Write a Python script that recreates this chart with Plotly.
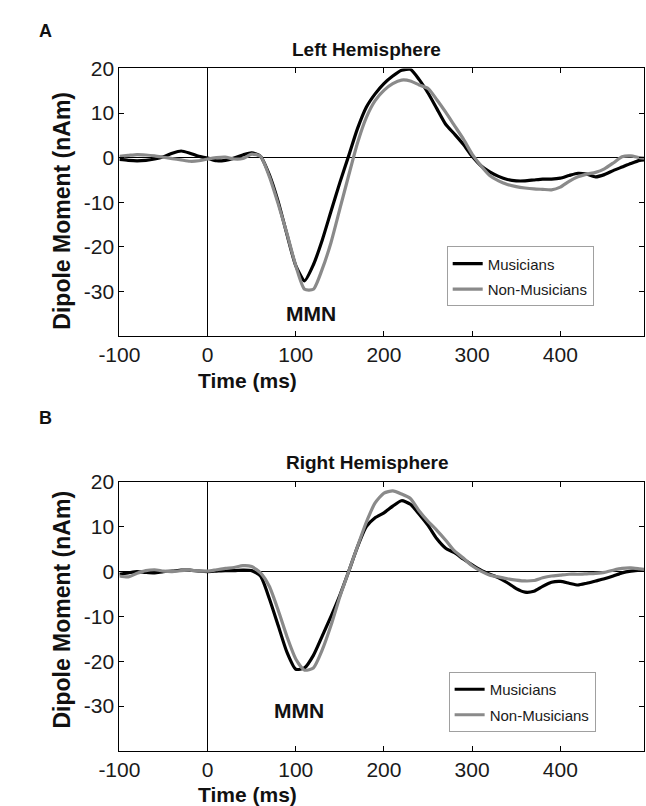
import plotly.graph_objects as go

# ---------------- data ----------------
time_ms = [-100, -90, -80, -70, -60, -50, -40, -30, -20, -10,
           0, 10, 20, 30, 40, 50, 60, 70, 80, 90,
           100, 110, 120, 130, 140, 150, 160, 170, 180, 190,
           200, 210, 220, 230, 240, 250, 260, 270, 280, 290,
           300, 310, 320, 330, 340, 350, 360, 370, 380, 390,
           400, 410, 420, 430, 440, 450, 460, 470, 480, 490, 495]

left_musicians = [-0.4, -0.6, -0.7, -0.6, -0.3, 0.2, 1.0, 1.5, 1.0, 0.3,
                  -0.1, -0.7, -0.6, -0.1, 0.6, 1.1, 0.3, -3.8, -9.8, -17.2,
                  -24.2, -27.6, -24.0, -18.5, -12.0, -5.6, 0.4, 6.5, 11.3, 14.3,
                  16.6, 18.3, 19.6, 19.8, 17.5, 14.5, 11.0, 7.5, 5.3, 3.0,
                  0.3, -1.8, -3.2, -4.2, -4.9, -5.2, -5.2, -5.0, -4.8, -4.8,
                  -4.6, -4.0, -3.5, -3.7, -4.3, -3.8, -2.9, -2.1, -1.3, -0.6, -0.5]

left_nonmusicians = [0.3, 0.5, 0.7, 0.6, 0.4, 0.1, -0.2, -0.5, -0.8, -0.7,
                     -0.3, 0.0, 0.1, -0.3, -0.2, 0.8, 0.3, -4.2, -10.3, -17.0,
                     -24.2, -29.5, -29.5, -25.0, -19.0, -11.5, -4.0, 3.3, 9.0, 12.8,
                     15.1, 16.6, 17.4, 17.2, 16.3, 15.5, 13.0, 10.2, 7.2, 4.2,
                     0.8, -1.8, -4.0, -5.2, -6.0, -6.5, -6.8, -7.0, -7.1, -7.2,
                     -6.6, -5.3, -4.3, -3.7, -3.3, -2.5, -1.2, 0.2, 0.4, 0.0, -0.1]

right_musicians = [-0.6, -0.3, 0.0, -0.2, -0.3, 0.0, 0.1, 0.3, 0.3, 0.1,
                   0.0, 0.1, 0.2, 0.2, 0.3, 0.2, -1.0, -6.0, -12.0, -18.0,
                   -21.8, -21.5, -18.7, -14.4, -10.0, -5.3, 0.0, 5.5, 10.0, 12.0,
                   13.1, 14.6, 15.8, 15.0, 12.8, 10.3, 7.3, 5.2, 4.2, 2.8,
                   1.5, 0.3, -0.6, -1.4, -2.5, -3.8, -4.6, -4.4, -3.3, -2.4,
                   -2.2, -2.6, -3.0, -2.6, -2.1, -1.6, -1.0, -0.3, 0.1, 0.3, 0.4]

right_nonmusicians = [-1.0, -1.2, -0.4, 0.2, 0.4, 0.1, 0.0, 0.2, 0.3, 0.1,
                      0.1, 0.4, 0.7, 0.9, 1.3, 1.1, -0.3, -3.3, -8.6, -14.5,
                      -19.5, -22.0, -21.5, -17.5, -12.0, -5.6, 0.0, 5.6, 11.0, 15.3,
                      17.5, 18.0, 17.3, 16.3, 13.5, 11.2, 9.2, 7.0, 4.6, 3.0,
                      1.3, 0.1, -0.8, -1.2, -1.6, -1.9, -2.1, -2.0, -1.4, -1.0,
                      -0.8, -0.6, -0.6, -0.5, -0.4, -0.2, 0.3, 0.7, 0.8, 0.6, 0.5]

x_tick_vals = [-100, 0, 100, 200, 300, 400]
x_tick_text = ["-100", "0", "100", "200", "300", "400"]
y_tick_vals = [-30, -20, -10, 0, 10, 20]
y_tick_text = ["-30", "-20", "-10", "0", "10", "20"]
series_names = ["Musicians", "Non-Musicians"]
panel_titles = ["Left Hemisphere", "Right Hemisphere"]
panel_letters = ["A", "B"]
mmn_positions = [(117, -34.9), (104, -31.0)]  # (time, nAm) of the "MMN" label

# ---------------- style ----------------
W, H = 646, 806
FONT = "Arial, Liberation Sans, Helvetica, sans-serif"
BLACK = "#000000"
GRAY = "#8a8a8a"
TXT = "#111111"


def px(x):
    return x / W


def py(y):
    return 1 - y / H


fig = go.Figure()

panels = [
    dict(m=left_musicians, n=left_nonmusicians, legend="legend", xa="x", ya="y"),
    dict(m=right_musicians, n=right_nonmusicians, legend="legend2", xa="x2", ya="y2"),
]

for k, p in enumerate(panels):
    fig.add_trace(go.Scatter(x=time_ms, y=p["m"], mode="lines", name=series_names[0],
                             line=dict(color=BLACK, width=3.2, shape="spline", smoothing=0.6),
                             xaxis=p["xa"], yaxis=p["ya"], legend=p["legend"],
                             legendgroup="m%d" % k))
    fig.add_trace(go.Scatter(x=time_ms, y=p["n"], mode="lines", name=series_names[1],
                             line=dict(color=GRAY, width=3.2, shape="spline", smoothing=0.6),
                             xaxis=p["xa"], yaxis=p["ya"], legend=p["legend"],
                             legendgroup="n%d" % k))

axis_common = dict(showline=True, mirror="ticks", linecolor=BLACK, linewidth=1,
                   ticks="inside", ticklen=5, tickcolor=BLACK, tickwidth=1,
                   showgrid=False, zeroline=True, zerolinecolor=BLACK, zerolinewidth=1,
                   tickfont=dict(family=FONT, size=21, color="#1a1a1a"))
xaxis_common = dict(range=[-100, 495], tickvals=x_tick_vals, ticktext=x_tick_text, **axis_common)
yaxis_common = dict(range=[-40, 20], tickvals=y_tick_vals, ticktext=y_tick_text, **axis_common)

xdom = [px(101.7), px(644)]
legend_common = dict(xanchor="left", yanchor="top", bgcolor="white",
                     bordercolor="#a0a0a0", borderwidth=1, tracegroupgap=3,
                     font=dict(family=FONT, size=15, color="#1a1a1a"))
layout = dict(
    width=W, height=H, margin=dict(l=0, r=0, t=0, b=0),
    paper_bgcolor="white", plot_bgcolor="white", showlegend=True,
    xaxis=dict(domain=xdom, anchor="y", **xaxis_common),
    yaxis=dict(domain=[py(329), py(57.3)], anchor="x", **yaxis_common),
    xaxis2=dict(domain=xdom, anchor="y2", **xaxis_common),
    yaxis2=dict(domain=[py(750), py(477)], anchor="x2", **yaxis_common),
    legend=dict(x=px(440), y=py(238), **legend_common),
    legend2=dict(x=px(442), y=py(670), **legend_common),
)
fig.update_layout(**layout)

annos = []
letter_pos = [(25, 19), (25, 412)]
title_pos = [(357, 38), (358, 457)]
xlabel_pos = [(234, 374), (234, 794)]
ylabel_pos = [(42, 202), (42, 607)]
refs = [("x", "y"), ("x2", "y2")]


def add(text, x, y, size, angle=0, xref="paper", yref="paper"):
    annos.append(dict(text=text, x=x, y=y, xref=xref, yref=yref, showarrow=False,
                      xanchor="center", yanchor="middle", textangle=angle,
                      font=dict(family=FONT, size=size, color=TXT)))


for i in range(2):
    add("<b>%s</b>" % panel_letters[i], px(letter_pos[i][0]), py(letter_pos[i][1]), 18)
    add("<b>%s</b>" % panel_titles[i], px(title_pos[i][0]), py(title_pos[i][1]), 19)
    add("<b>Time (ms)</b>", px(xlabel_pos[i][0]), py(xlabel_pos[i][1]), 21)
    add("<b>Dipole Moment (nAm)</b>", px(ylabel_pos[i][0]), py(ylabel_pos[i][1]), 23, angle=-90)
    add("<b>MMN</b>", mmn_positions[i][0], mmn_positions[i][1], 21,
        xref=refs[i][0], yref=refs[i][1])
fig.update_layout(annotations=annos)

fig.write_html("out.html")
